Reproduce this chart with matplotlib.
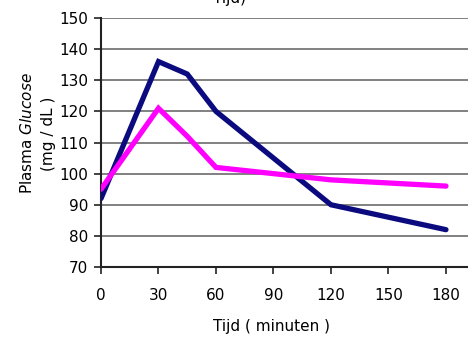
import matplotlib
matplotlib.use("Agg")
import matplotlib.pyplot as plt

# Oral glucose tolerance curves
minutes = [0, 30, 45, 60, 120, 180]
glucose_navy = [92, 136, 132, 120, 90, 82]
glucose_magenta = [95, 121, 112, 102, 98, 96]
x_ticks = [0, 30, 60, 90, 120, 150, 180]
y_ticks = [70, 80, 90, 100, 110, 120, 130, 140, 150]

fig = plt.figure(figsize=(4.68, 3.38), dpi=100)
ax = fig.add_axes([0.2158, 0.21, 0.7842, 0.7367])

ax.plot(minutes, glucose_navy, color="#0b0b7f", lw=3.8, solid_capstyle="round",
        solid_joinstyle="miter", zorder=3)
ax.plot(minutes, glucose_magenta, color="#ff00ff", lw=3.8, solid_capstyle="round",
        solid_joinstyle="miter", zorder=3)

ax.set_xlim(0, 191.5)
ax.set_ylim(70, 150)
ax.set_xticks(x_ticks)
ax.set_yticks(y_ticks)
ax.yaxis.grid(True, color="#808080", lw=1.4)
ax.set_axisbelow(True)
for s in ("top", "right"):
    ax.spines[s].set_visible(False)
for s in ("left", "bottom"):
    ax.spines[s].set_color("#222222")
    ax.spines[s].set_linewidth(1.5)
ax.tick_params(axis="both", direction="out", length=5, width=1.2, color="#222222",
               labelsize=11)
ax.tick_params(axis="x", pad=10)
ax.tick_params(axis="y", pad=4)

fig.text(0.581, 0.035, "Tijd ( minuten )", ha="center", va="center", fontsize=11)
fig.text(0.058, 0.605, "Plasma $\\it{Glucose}$", rotation=90, ha="center", va="center",
         fontsize=11)
fig.text(0.103, 0.605, "(mg / dL )", rotation=90, ha="center", va="center", fontsize=11)
fig.text(0.49, 1.005, "Tijd)", ha="center", va="center", fontsize=11)

fig.savefig("out.png", dpi=100)
